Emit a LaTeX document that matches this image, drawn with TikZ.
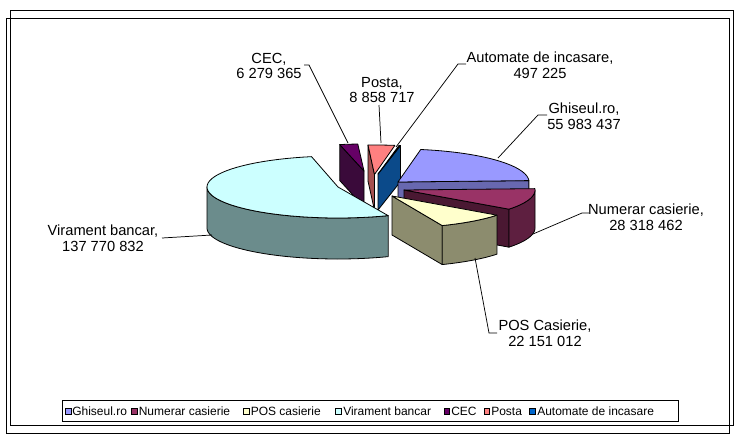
\documentclass[tikz,border=0pt]{standalone}
\usepackage{fontspec}
\setmainfont{Liberation Sans}
\definecolor{gTop}{HTML}{9999FF}\definecolor{gSide}{HTML}{6868B0}
\definecolor{nTop}{HTML}{993366}\definecolor{nSide}{HTML}{5E1F40}\definecolor{nEnd}{HTML}{4A1832}
\definecolor{pTop}{HTML}{FFFFCC}\definecolor{pSide}{HTML}{8C8C6E}
\definecolor{vTop}{HTML}{CCFFFF}\definecolor{vSide}{HTML}{6B8C8C}
\definecolor{cTop}{HTML}{660066}\definecolor{cSide}{HTML}{3A0A3A}
\definecolor{sTop}{HTML}{FF8080}\definecolor{sSide}{HTML}{A65050}
\definecolor{aTop}{HTML}{0066CC}\definecolor{aSide}{HTML}{0B4A8A}
% top face: cx cy rx ry s e colour
\newcommand\slTop[7]{\filldraw[fill=#7,edge] (#1,#2) -- plot[domain=#5:#6,samples=50] ({#1+#3*sin(\x)},{#2-#4*cos(\x)}) -- cycle;}
% outer wall: cx cy rx ry h a b colour
\newcommand\slWall[8]{\filldraw[fill=#8,edge] plot[domain=#6:#7,samples=50] ({#1+#3*sin(\x)},{#2-#4*cos(\x)}) -- plot[domain=#7:#6,samples=50] ({#1+#3*sin(\x)},{#2+#5-#4*cos(\x)}) -- cycle;}
% cut face: cx cy rx ry h a colour
\newcommand\slFace[7]{\filldraw[fill=#7,edge] (#1,#2) -- ({#1+#3*sin(#6)},{#2-#4*cos(#6)}) -- ++(0,#5) -- (#1,{#2+#5}) -- cycle;}
\begin{document}
\begin{tikzpicture}[x=0.75pt,y=-0.75pt,
  edge/.style={draw=black,line width=0.6pt,line join=round},
  lbl/.style={align=center,inner sep=0pt,font=\fontsize{11}{11.8}\selectfont},
  leader/.style={draw=black,line width=0.55pt},
  legtxt/.style={anchor=base west,inner sep=0pt,font=\fontsize{9}{11}\selectfont},
  legsq/.style={draw=black,line width=0.4pt,minimum size=4.2pt,inner sep=0pt,anchor=center}]
\useasboundingbox (0,0) rectangle (748,439);
% frames
\draw[line width=0.75pt] (10.3,10) rectangle (733,425);
\draw[line width=0.75pt] (6.7,18) rectangle (729.7,433);
% ---- back slices
% CEC
\slFace{364}{171}{120}{27}{36}{348.34}{cSide}
\slTop{364}{171}{120}{27}{348.34}{357.04}{cTop}
% Posta
\slFace{374.5}{174.5}{126}{29.5}{36}{357.04}{sSide}
\slTop{374.5}{174.5}{126}{29.5}{357.04}{369.31}{sTop}
% Automate
\slFace{378}{174}{130}{29}{36}{370}{aSide}
\slTop{378}{174}{130}{29}{369.31}{370}{aTop}
% Ghiseul
\slFace{398}{182}{131}{33}{38}{87.56}{gSide}
\slTop{398}{182}{131}{33}{10}{87.56}{gTop}
% Numerar
\slFace{404}{190}{131}{32}{38}{126.79}{nEnd}
\slWall{404}{190}{131}{32}{38}{90}{126.79}{nSide}
\slTop{404}{190}{131}{32}{87.56}{126.79}{nTop}
% POS
\slFace{392}{196}{131}{32}{39}{157.48}{pSide}
\slWall{392}{196}{131}{32}{39}{126.79}{157.48}{pSide}
\slTop{392}{196}{131}{32}{126.79}{157.48}{pTop}
% Virament
\slWall{338}{187}{131}{31}{41}{157.48}{270}{vSide}
\slTop{338}{187}{131}{31}{157.48}{348.34}{vTop}
% ---- labels
\node[lbl] (lcec) at (269,66) {CEC,\\6 279 365};
\node[lbl] (lposta) at (382,90) {Posta,\\8 858 717};
\node[lbl] (lauto) at (540,65) {Automate de incasare,\\497 225};
\node[lbl] (lghis) at (584,116.5) {Ghiseul.ro,\\55 983 437};
\node[lbl] (lnum) at (646,217) {Numerar casierie,\\28 318 462};
\node[lbl] (lpos) at (545,333) {POS Casierie,\\22 151 012};
\node[lbl] (lvir) at (103,238) {Virament bancar,\\137 770 832};
% ---- leader lines
\coordinate (cecA) at (304,65); \coordinate (cecB) at (309,65); \coordinate (cecP) at (348,143);
\draw[leader] (cecA) -- (cecB) -- (cecP);
\coordinate (posA) at (379,105); \coordinate (posP) at (381,143);
\draw[leader] (posA) -- (posP);
\coordinate (autA) at (466,64); \coordinate (autB) at (458,64); \coordinate (autP) at (396,147);
\draw[leader] (autA) -- (autB) -- (autP);
\coordinate (ghA) at (547,115); \coordinate (ghB) at (538,115); \coordinate (ghP) at (498,158);
\draw[leader] (ghA) -- (ghB) -- (ghP);
\coordinate (nuA) at (589,213); \coordinate (nuB) at (582,213); \coordinate (nuP) at (533,234);
\draw[leader] (nuA) -- (nuB) -- (nuP);
\coordinate (poA) at (497,333); \coordinate (poB) at (489,333); \coordinate (poP) at (475,258);
\draw[leader] (poA) -- (poB) -- (poP);
\coordinate (viA) at (162,238); \coordinate (viP) at (212,235);
\draw[leader] (viA) -- (viP);
% ---- legend
\draw[fill=white,line width=0.6pt] (62,400.5) rectangle (678,421.5);
\node[legsq,fill=gTop] (q1) at (68,411.5) {};
\node[legtxt] (t1) at (72,415.5) {Ghiseul.ro};
\node[legsq,fill=nTop] (q2) at (134,411.5) {};
\node[legtxt] (t2) at (138.5,415.5) {Numerar casierie};
\node[legsq,fill=pTop] (q3) at (246,411.5) {};
\node[legtxt] (t3) at (250.5,415.5) {POS casierie};
\node[legsq,fill=vTop] (q4) at (338.3,411.5) {};
\node[legtxt] (t4) at (343,415.5) {Virament bancar};
\node[legsq,fill=cTop] (q5) at (446.7,411.5) {};
\node[legtxt] (t5) at (451,415.5) {CEC};
\node[legsq,fill=sTop] (q6) at (486.6,411.5) {};
\node[legtxt] (t6) at (491,415.5) {Posta};
\node[legsq,fill=aTop] (q7) at (532.5,411.5) {};
\node[legtxt] (t7) at (537,415.5) {Automate de incasare};
\end{tikzpicture}
\end{document}
